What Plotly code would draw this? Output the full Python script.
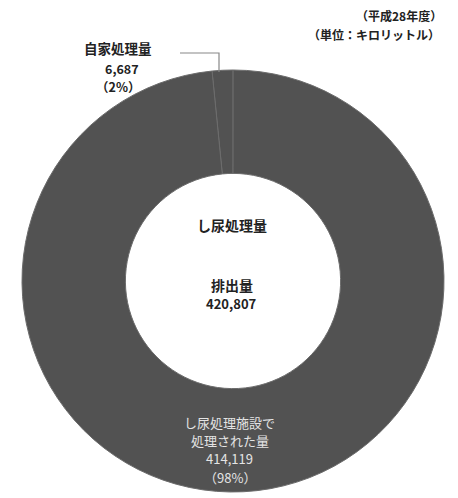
import plotly.graph_objects as go

W, H = 458, 498

# data
labels = ["自家処理量", "し尿処理施設で処理された量"]
values = [6687, 414119]
pct_labels = ["（2%）", "（98%）"]
total_label = "排出量"
total_value = 420807
center_title = "し尿処理量"
note_lines = ["（平成28年度）", "（単位：キロリットル）"]

FONT = "Noto Sans CJK JP"
GRAY = "#525252"

def px(x):
    return x / W

def py(y):
    return 1 - y / H

fig = go.Figure()
fig.add_trace(go.Pie(
    labels=labels,
    values=values,
    hole=0.51,
    sort=False,
    direction="clockwise",
    rotation=-5.7,
    textinfo="none",
    hoverinfo="label+value",
    marker=dict(colors=[GRAY, GRAY], line=dict(color="#6c6c6c", width=1)),
    domain=dict(x=[px(18), px(448)], y=[py(492), py(70)]),
    showlegend=False,
))

ann = []
def add(text, x, y, color="#222222", size=12.5, bold=True, xanchor="center"):
    t = f"<b>{text}</b>" if bold else text
    ann.append(dict(text=t, x=px(x), y=py(y), xref="paper", yref="paper",
                    showarrow=False, xanchor=xanchor, yanchor="middle",
                    font=dict(family=FONT, size=size, color=color)))

# note top right
add(note_lines[0], 444, 15, size=12, xanchor="right")
add(note_lines[1], 442, 35, size=12, xanchor="right")

# small slice label
add(labels[0], 118, 48, size=13.5)
add(f"{values[0]:,}", 122, 69, size=12.5)
add(pct_labels[0], 118, 87, size=12.5)

# center
add(center_title, 232, 225, size=14)
add(total_label, 232, 285, size=14)
add(f"{total_value:,}", 232, 303, size=13)

# big slice label (inside)
LIGHT = "#e4e4e4"
add("し尿処理施設で", 230, 422, color=LIGHT, size=13, bold=False)
add("処理された量", 230, 440, color=LIGHT, size=13, bold=False)
add(f"{values[1]:,}", 230, 458, color=LIGHT, size=13, bold=False)
add(pct_labels[1], 230, 477, color=LIGHT, size=13, bold=False)

fig.update_layout(
    width=W, height=H,
    margin=dict(l=0, r=0, t=0, b=0),
    paper_bgcolor="white", plot_bgcolor="white",
    annotations=ann,
    shapes=[dict(type="path", xref="paper", yref="paper",
                 path=f"M {px(180)} {py(53)} L {px(219)} {py(53)} L {px(219)} {py(72)}",
                 line=dict(color="#888888", width=1.2))],
)

fig.write_html("out.html", config={"displayModeBar": False},
               post_script="document.body.style.margin='0';")
